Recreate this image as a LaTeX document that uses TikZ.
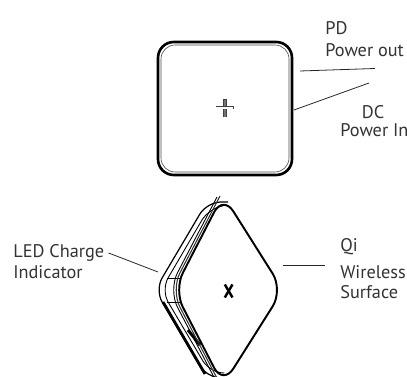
\documentclass[tikz,border=0pt]{standalone}
\usepackage{fontspec}
\setmainfont{PT Sans}
\tikzset{
	label text/.style={inner sep=0pt, text=black!80, font=\fontsize{10.4pt}{12pt}\selectfont, anchor=west},
	leader/.style={line width=0.45pt, color=black!85},
	body line/.style={line width=0.7pt, line join=round},
}
\begin{document}
\begin{tikzpicture}[x=0.02cm, y=-0.02cm]
	%%%%% TOP VIEW %%%%%
	\useasboundingbox (0, 0) rectangle (407, 377);
	\draw[line width=1.5pt, rounded corners=9] (158, 42) rectangle (292, 175);
	\draw[line width=0.35pt, color=black!70, rounded corners=8] (161, 45) rectangle (289, 172);
	
	\draw[line width=1.8pt, color=black!75] (225, 99.5) -- (225, 117.5);
	\draw[line width=0.8pt, color=black!55] (225, 100) -- (225, 117);
	\draw[line width=1.7pt, color=black!75] (216, 108) -- (234, 108);
	\draw[line width=0.7pt, color=white] (216.5, 108) -- (233.5, 108);
	
	\node[label text] (pd) at (325, 28) {PD};
	\node[label text] (powerout) at (325, 50) {Power out};
	\node[label text, anchor=center] (dc) at (373, 112) {DC};
	\node[label text] (powerin) at (340, 130) {Power In};
	
	\coordinate (pdend) at (375, 68.5);
	\coordinate (pdstart) at (300, 71);
	\coordinate (dcend) at (369, 83);
	\coordinate (dcstart) at (294, 110);
	\draw[leader] (pdstart) -- (pdend);
	\draw[leader] (dcstart) -- (dcend);
	
	%%%%% ANGLED VIEW %%%%%
	\begin{scope}
		\clip (0, 190) rectangle (407, 377);
		% outer shell
		\draw[body line, rounded corners=8] (228, 202) -- (207, 202) -- (155, 290) -- (207, 378) -- (228, 378);
		\draw[body line, line width=1.6pt] (163, 302) -- (205, 374);
		\draw[body line, line width=0.5pt, rounded corners=8] (222, 206) -- (209, 208) -- (161, 290) -- (210, 373) -- (224, 373);
		\draw[body line, line width=0.5pt] (167, 278) -- (181, 278);
		\draw[body line, line width=0.5pt] (167, 302) -- (181, 302);
		% side notch
		\draw[line width=1.7pt] (188, 330) -- (200, 345);
		% qi face
		\draw[body line, line width=1.1pt, rounded corners=11] (223, 195) -- (283, 290) -- (223, 385) -- (174, 290) -- cycle;
		\draw[body line, line width=0.6pt, color=black!80, rounded corners=11] (220, 196) -- (171, 290) -- (220, 384);
		\draw[body line, line width=0.5pt, rounded corners=11] (217, 197) -- (168.5, 290) -- (217, 383);
	\end{scope}
	
	\draw[line width=1.4pt, color=black] (224.8, 284.5) -- (232.5, 297.5);
	\draw[line width=1.4pt, color=black] (232.5, 284.5) -- (224.8, 297.5);
	
	\node[label text] (led) at (13, 253) {LED Charge};
	\node[label text] (indicator) at (13, 272) {Indicator};
	\node[label text] (qi) at (340, 247) {Qi};
	\node[label text] (wireless) at (340, 272) {Wireless};
	\node[label text] (surface) at (340, 292) {Surface};
	
	\coordinate (ledend) at (158, 272);
	\coordinate (qistart) at (283, 265);
	\coordinate (qiend) at (325, 265);
	\draw[leader] (led.east) ++(4, 0) -- (ledend);
	\draw[leader] (qistart) -- (qiend);
\end{tikzpicture}
\end{document}
